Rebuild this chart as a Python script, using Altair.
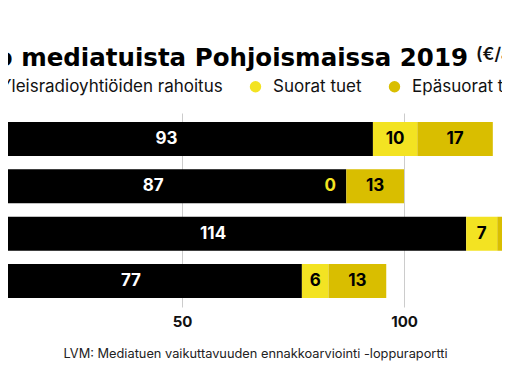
import altair as alt
import pandas as pd

countries = ["Suomi", "Tanska", "Norja", "Ruotsi"]
series = ["Yleisradioyhtiöiden rahoitus", "Suorat tuet", "Epäsuorat tuet"]
yle = [93, 87, 114, 77]
direct = [10, 0, 7, 6]
indirect = [17, 13, 24, 13]
colors = ["#000000", "#f3e322", "#d9be00"]
tick_values = [50, 100]
title_main = "Yhteenveto mediatuista Pohjoismaissa 2019"
title_unit = "(€/asukas)"
source = "LVM: Mediatuen vaikuttavuuden ennakkoarviointi -loppuraportti"

rows = []
for i, c in enumerate(countries):
    for j, (s, vals) in enumerate(zip(series, [yle, direct, indirect])):
        rows.append({"country": c, "series": s, "order": j, "value": vals[i]})
df = pd.DataFrame(rows)

FONT = "Inter"

base = alt.Chart(df).transform_window(
    end="sum(value)", frame=[None, 0], groupby=["country"], sort=[alt.SortField("order")]
).transform_calculate(
    start="datum.end - datum.value"
).transform_calculate(
    mid="(datum.start + datum.end) / 2"
)

xscale = alt.Scale(domain=[10.81, 122.07], nice=False, zero=False)
yenc = alt.Y("country:N", sort=countries, axis=None,
             scale=alt.Scale(paddingInner=0.282, paddingOuter=0.19))

bars = base.mark_bar(clip=True).encode(
    x=alt.X("start:Q", scale=xscale,
            axis=alt.Axis(values=tick_values, grid=True, gridColor="#cccccc", gridWidth=1,
                          domain=False, ticks=False, labelFont=FONT, labelFontWeight="bold",
                          labelFontSize=15, labelColor="#111111", labelPadding=7,
                          title=source, titleFont=FONT, titleFontWeight="normal",
                          titleFontSize=12.8, titleColor="#222222", titlePadding=18)),
    x2="end:Q",
    y=yenc,
    color=alt.Color("series:N", scale=alt.Scale(domain=series, range=colors),
                    legend=alt.Legend(orient="none", legendX=-34, legendY=-35,
                                      direction="horizontal", title=None,
                                      labelFont=FONT, labelFontSize=17, labelColor="#111111",
                                      labelLimit=0,
                                      symbolType="circle", symbolSize=130,
                                      symbolStrokeWidth=0, symbolOpacity=1,
                                      columnPadding=24, labelOffset=9, padding=0)),
)

labels = base.transform_filter("datum.value > 0").mark_text(
    clip=True, font=FONT, fontSize=17, fontWeight="bold"
).encode(
    x=alt.X("mid:Q", scale=xscale),
    y=yenc,
    text="value:Q",
    color=alt.condition("datum.order == 0", alt.value("#ffffff"), alt.value("#000000")),
)

zero_labels = base.transform_filter("datum.value == 0").mark_text(
    clip=True, font=FONT, fontSize=17, fontWeight="bold", dx=-16, color="#f3e322"
).encode(
    x=alt.X("mid:Q", scale=xscale),
    y=yenc,
    text="value:Q",
)

unit = alt.Chart(pd.DataFrame({"t": [title_unit]})).mark_text(
    font=FONT, fontSize=17.5, fontWeight=600, align="left", baseline="alphabetic",
    color="#111111"
).encode(x=alt.value(468), y=alt.value(-53), text="t:N")

chart = alt.layer(bars, labels, zero_labels, unit).properties(
    width=494, height=194,
    autosize=alt.AutoSizeParams(type="none"),
    padding={"left": 0, "right": 0, "top": 105, "bottom": 60},
    title=alt.TitleParams(title_main, anchor="end", frame="group", dx=-34, dy=37,
                          font="DejaVu Sans", fontSize=24.5, fontWeight="bold",
                          color="#000000", offset=12),
).configure_view(stroke=None)

chart.save("out.html", embed_options={"renderer": "svg", "actions": False})
